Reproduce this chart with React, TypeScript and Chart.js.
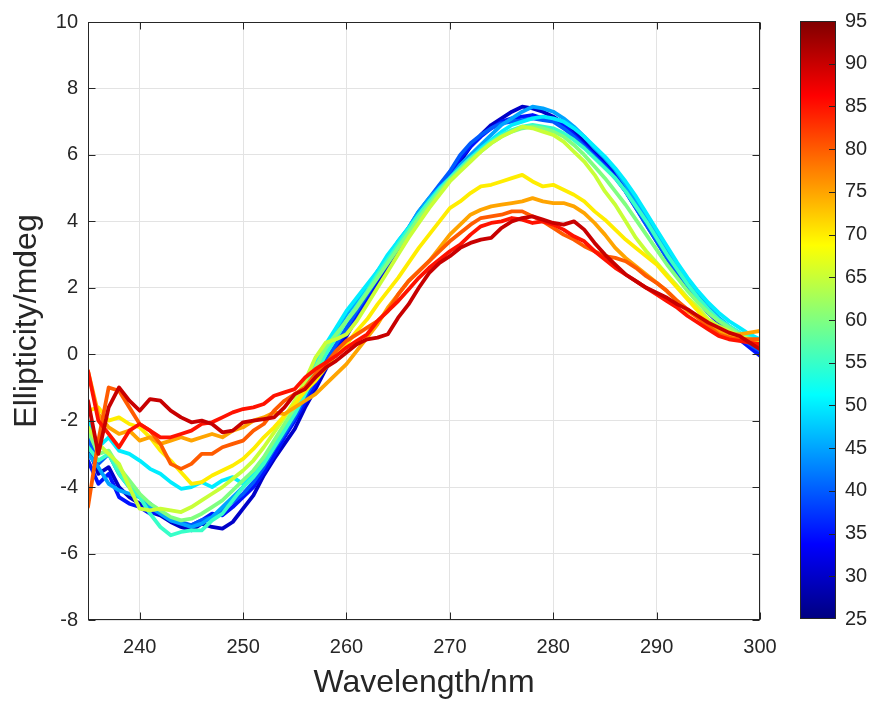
import React, { useEffect, useRef } from 'react';
import { Chart, registerables } from 'chart.js';
Chart.register(...registerables);

const wavelengths = [
  235, 236, 237, 238, 239, 240, 241, 242, 243, 244,
  245, 246, 247, 248, 249, 250, 251, 252, 253, 254,
  255, 256, 257, 258, 259, 260, 261, 262, 263, 264,
  265, 266, 267, 268, 269, 270, 271, 272, 273, 274,
  275, 276, 277, 278, 279, 280, 281, 282, 283, 284,
  285, 286, 287, 288, 289, 290, 291, 292, 293, 294,
  295, 296, 297, 298, 299, 300,
];

const temperatures = [30, 35, 40, 45, 50, 55, 60, 65, 70, 75, 80, 85, 90];

const t30 = [-2.8,-3.6,-3.4,-4.0,-4.3,-4.5,-4.75,-4.85,-5.05,-5.2, -5.3,-5.1,-5.2,-5.25,-5.05,-4.65,-4.25,-3.65,-3.15,-2.7, -2.25,-1.6,-1.05,-0.45,0.1,0.55,1.1,1.55,2.1,2.6, 3.05,3.6,4.0,4.5,4.85,5.3,5.8,6.25,6.6,6.9, 7.1,7.3,7.45,7.4,7.3,7.15,6.95,6.7,6.4,6.1, 5.8,5.45,5.0,4.5,4.0,3.45,2.95,2.45,2.0,1.6, 1.25,0.95,0.7,0.5,0.25,0.0];
const t35 = [-3.2,-3.9,-3.6,-4.3,-4.5,-4.6,-4.8,-4.75,-5.0,-5.1, -5.15,-5.0,-4.8,-4.85,-4.6,-4.3,-4.0,-3.55,-3.05,-2.5, -2.0,-1.45,-0.9,-0.3,0.2,0.7,1.2,1.7,2.25,2.7, 3.2,3.7,4.2,4.6,5.0,5.45,5.9,6.25,6.55,6.8, 7.0,7.1,7.15,7.2,7.1,7.05,6.9,6.6,6.3,6.0, 5.7,5.35,4.9,4.4,3.9,3.4,2.9,2.4,2.0,1.6, 1.25,0.95,0.7,0.45,0.2,-0.05];
const t40 = [-2.5,-3.3,-3.0,-3.6,-4.0,-4.3,-4.5,-4.8,-5.0,-5.05, -5.15,-5.0,-4.9,-4.7,-4.45,-4.2,-3.85,-3.4,-2.85,-2.4, -1.9,-1.3,-0.75,-0.2,0.3,0.8,1.3,1.8,2.3,2.8, 3.3,3.8,4.3,4.7,5.1,5.5,6.0,6.35,6.6,6.8, 6.95,7.0,7.05,7.1,7.05,7.0,6.8,6.55,6.25,5.95, 5.65,5.3,4.9,4.4,3.9,3.4,2.9,2.45,2.0,1.6, 1.3,1.0,0.75,0.5,0.3,0.1];
const t45 = [-3.0,-3.4,-3.9,-4.1,-4.2,-4.3,-4.6,-4.8,-5.0,-5.1, -5.2,-5.1,-4.9,-4.6,-4.3,-4.0,-3.6,-3.2,-2.7,-2.2, -1.6,-1.0,-0.4,0.2,0.7,1.2,1.6,2.0,2.5,2.9, 3.4,3.8,4.3,4.7,5.0,5.3,5.7,6.0,6.3,6.6, 6.9,7.1,7.3,7.45,7.4,7.3,7.1,6.85,6.55,6.2, 5.9,5.55,5.1,4.6,4.1,3.6,3.1,2.6,2.15,1.75, 1.4,1.1,0.85,0.65,0.45,0.25];
const t50 = [-2.0,-2.8,-2.5,-2.9,-3.0,-3.2,-3.45,-3.6,-3.85,-4.05, -4.0,-3.85,-4.0,-3.8,-3.7,-3.9,-3.6,-3.2,-2.7,-2.2, -1.6,-1.0,-0.3,0.3,0.8,1.3,1.7,2.1,2.5,3.0, 3.4,3.8,4.2,4.6,5.0,5.3,5.6,5.9,6.2,6.45, 6.7,6.9,7.0,7.1,7.15,7.1,7.0,6.8,6.55,6.25, 5.95,5.6,5.2,4.75,4.25,3.75,3.25,2.75,2.3,1.9, 1.55,1.25,1.0,0.8,0.6,0.45];
const t55 = [-2.8,-3.2,-3.0,-3.6,-4.0,-4.3,-4.8,-5.2,-5.45,-5.35, -5.3,-5.3,-5.0,-4.8,-4.4,-4.0,-3.7,-3.3,-2.8,-2.3, -1.8,-1.2,-0.6,0.0,0.5,1.0,1.45,1.9,2.4,2.85, 3.3,3.75,4.2,4.6,4.95,5.3,5.6,5.9,6.15,6.4, 6.6,6.75,6.85,6.9,6.85,6.8,6.65,6.45,6.2,5.9, 5.6,5.3,4.9,4.45,4.0,3.5,3.0,2.55,2.1,1.7, 1.35,1.05,0.85,0.65,0.5,0.35];
const t60 = [-2.3,-3.0,-2.9,-3.4,-3.8,-4.2,-4.5,-4.7,-4.9,-5.0, -4.95,-4.8,-4.6,-4.4,-4.1,-3.8,-3.5,-3.1,-2.6,-2.1, -1.6,-1.0,-0.4,0.2,0.6,1.0,1.4,1.85,2.3,2.75, 3.2,3.65,4.1,4.5,4.9,5.25,5.55,5.85,6.1,6.35, 6.55,6.7,6.8,6.85,6.8,6.7,6.55,6.3,6.0,5.65, 5.3,4.9,4.5,4.05,3.6,3.15,2.7,2.3,1.9,1.55, 1.25,1.0,0.8,0.6,0.45,0.3];
const t65 = [-2.2,-2.7,-3.0,-3.3,-4.0,-4.65,-4.7,-4.65,-4.7,-4.75, -4.6,-4.4,-4.2,-4.0,-3.75,-3.5,-3.2,-2.8,-2.35,-1.9, -1.4,-0.8,-0.1,0.35,0.45,0.6,1.0,1.5,2.0,2.5, 3.0,3.5,3.95,4.4,4.8,5.2,5.5,5.8,6.1,6.35, 6.55,6.7,6.85,6.8,6.7,6.6,6.4,6.1,5.8,5.4, 4.9,4.5,4.0,3.5,3.1,2.75,2.4,2.05,1.7,1.4, 1.05,0.85,0.7,0.55,0.45,0.35];
const t70 = [-1.7,-1.6,-2.0,-1.9,-2.1,-2.2,-2.5,-2.9,-3.2,-3.55, -3.9,-3.85,-3.65,-3.5,-3.35,-3.15,-2.85,-2.5,-2.2,-1.85, -1.5,-1.1,-0.8,-0.4,0.0,0.3,0.7,1.05,1.5,1.9, 2.3,2.75,3.2,3.6,4.0,4.4,4.6,4.85,5.05,5.1, 5.2,5.3,5.4,5.2,5.05,5.1,4.95,4.8,4.6,4.3, 4.05,3.75,3.45,3.2,2.95,2.7,2.35,2.0,1.65,1.3, 0.95,0.75,0.6,0.5,0.4,0.3];
const t75 = [-0.5,-1.8,-2.2,-2.4,-2.3,-2.6,-2.5,-2.7,-2.6,-2.5, -2.6,-2.5,-2.4,-2.5,-2.3,-2.2,-2.0,-1.9,-1.75,-1.8, -1.6,-1.4,-1.2,-0.9,-0.6,-0.3,0.1,0.5,0.9,1.4, 1.8,2.2,2.5,2.8,3.2,3.6,3.9,4.2,4.35,4.45, 4.5,4.55,4.6,4.7,4.6,4.55,4.55,4.45,4.25,3.95, 3.6,3.2,2.9,2.65,2.4,2.15,1.9,1.6,1.3,1.1, 0.9,0.7,0.6,0.6,0.65,0.7];
const t80 = [-4.6,-2.6,-1.0,-1.1,-1.6,-2.1,-2.3,-2.7,-3.3,-3.45, -3.3,-3.0,-3.0,-2.8,-2.7,-2.6,-2.3,-2.1,-1.7,-1.4, -1.2,-1.0,-0.6,-0.3,0.1,0.4,0.6,0.8,1.0,1.3, 1.8,2.2,2.5,2.8,3.1,3.4,3.65,3.9,4.1,4.15, 4.2,4.3,4.3,4.15,4.0,3.8,3.6,3.45,3.25,3.1, 2.95,2.9,2.8,2.6,2.35,2.15,1.9,1.6,1.35,1.1, 0.85,0.6,0.5,0.45,0.45,0.45];
const t85 = [-0.5,-2.0,-2.4,-2.8,-2.3,-2.1,-2.3,-2.5,-2.5,-2.4, -2.3,-2.1,-2.05,-1.9,-1.75,-1.65,-1.6,-1.5,-1.25,-1.15, -1.05,-0.7,-0.45,-0.25,-0.05,0.2,0.4,0.6,1.0,1.3, 1.6,1.95,2.3,2.6,2.85,3.1,3.3,3.6,3.85,3.95, 4.0,4.1,4.05,3.95,4.0,3.9,3.75,3.55,3.4,3.1, 2.85,2.6,2.4,2.2,2.0,1.8,1.6,1.4,1.15,0.95, 0.75,0.55,0.45,0.4,0.35,0.3];
const t90 = [-1.4,-3.0,-1.6,-1.0,-1.4,-1.7,-1.35,-1.4,-1.7,-1.9, -2.05,-2.0,-2.1,-2.35,-2.3,-2.05,-2.0,-1.95,-1.9,-1.6, -1.2,-1.05,-0.7,-0.4,-0.2,0.05,0.3,0.45,0.5,0.6, 1.1,1.5,2.0,2.45,2.75,2.95,3.2,3.35,3.45,3.5, 3.8,4.0,4.1,4.15,4.05,3.95,3.9,4.0,3.75,3.35, 3.0,2.7,2.4,2.2,2.0,1.85,1.7,1.5,1.35,1.15, 0.95,0.8,0.65,0.55,0.35,0.15];

const series = [t30, t35, t40, t45, t50, t55, t60, t65, t70, t75, t80, t85, t90];

const xTicks = [240, 250, 260, 270, 280, 290, 300];
const yTicks = [-8, -6, -4, -2, 0, 2, 4, 6, 8, 10];
const colorbarTicks = [25, 30, 35, 40, 45, 50, 55, 60, 65, 70, 75, 80, 85, 90, 95];
const colorMin = 25;
const colorMax = 95;

const TEXT = '#262626';
const FONT = '"Liberation Sans", Arial, Helvetica, sans-serif';

function jetRGB(t: number): [number, number, number] {
  const c = (k: number) => Math.max(0, Math.min(1, 1.5 - Math.abs(4 * t - k)));
  return [Math.round(c(3) * 255), Math.round(c(2) * 255), Math.round(c(1) * 255)];
}
function jetColor(v: number): string {
  const [r, g, b] = jetRGB((v - colorMin) / (colorMax - colorMin));
  return `rgb(${r},${g},${b})`;
}

const framePlugin = {
  id: 'frameAndColorbar',
  afterDraw(chart: any) {
    const { ctx, chartArea: a, scales } = chart;
    const xs = scales.x;
    const ys = scales.y;
    const L = Math.round(a.left) + 0.5;
    const R = Math.round(a.right) - 0.5;
    const T = Math.round(a.top) + 0.5;
    const B = Math.round(a.bottom) - 0.5;
    ctx.save();
    ctx.strokeStyle = TEXT;
    ctx.lineWidth = 1;
    ctx.strokeRect(L, T, R - L, B - T);
    const tl = 7;
    ctx.beginPath();
    xTicks.forEach((v) => {
      const px = Math.round(xs.getPixelForValue(v)) + 0.5;
      ctx.moveTo(px, B);
      ctx.lineTo(px, B - tl);
      ctx.moveTo(px, T);
      ctx.lineTo(px, T + tl);
    });
    yTicks.forEach((v) => {
      const py = Math.round(ys.getPixelForValue(v)) + 0.5;
      ctx.moveTo(L, py);
      ctx.lineTo(L + tl, py);
      ctx.moveTo(R, py);
      ctx.lineTo(R - tl, py);
    });
    ctx.stroke();

    // colorbar
    const cbL = 800;
    const cbR = 836;
    const cbT = Math.round(a.top) - 1;
    const cbB = Math.round(a.bottom) - 1;
    const grad = ctx.createLinearGradient(0, cbB, 0, cbT);
    for (let i = 0; i <= 64; i++) {
      const [r, g, b] = jetRGB(i / 64);
      grad.addColorStop(i / 64, `rgb(${r},${g},${b})`);
    }
    ctx.fillStyle = grad;
    ctx.fillRect(cbL, cbT, cbR - cbL, cbB - cbT);
    ctx.strokeStyle = TEXT;
    ctx.strokeRect(cbL + 0.5, cbT + 0.5, cbR - cbL - 1, cbB - cbT - 1);
    ctx.beginPath();
    ctx.fillStyle = TEXT;
    ctx.font = `20px ${FONT}`;
    ctx.textAlign = 'left';
    ctx.textBaseline = 'middle';
    colorbarTicks.forEach((v) => {
      const py = cbB - ((v - colorMin) / (colorMax - colorMin)) * (cbB - cbT);
      const yy = Math.round(py) + 0.5;
      if (v !== colorMin && v !== colorMax) {
        ctx.moveTo(cbR - 1, yy);
        ctx.lineTo(cbR - 1 - 6, yy);
      }
      ctx.fillText(String(v), 845, py);
    });
    ctx.stroke();
    ctx.restore();
  },
};

export default function App() {
  const ref = useRef<HTMLCanvasElement>(null);
  useEffect(() => {
    if (!ref.current) return;
    const datasets = series.map((s, i) => ({
      label: `${temperatures[i]}`,
      data: wavelengths.map((w, j) => ({ x: w, y: s[j] })),
      borderColor: jetColor(temperatures[i]),
      backgroundColor: jetColor(temperatures[i]),
      borderWidth: 3.8,
      pointRadius: 0,
      tension: 0,
      fill: false,
      borderJoinStyle: 'round' as const,
      borderCapStyle: 'round' as const,
      order: series.length - i,
    }));
    const chart = new Chart(ref.current, {
      type: 'line',
      data: { datasets },
      options: {
        animation: false,
        responsive: false,
        devicePixelRatio: 1,
        layout: { padding: { left: 8, right: 115, top: 16, bottom: 0 } },
        plugins: { legend: { display: false }, tooltip: { enabled: false } },
        scales: {
          x: {
            type: 'linear',
            min: 235,
            max: 300,
            afterBuildTicks: (s: any) => {
              s.ticks = xTicks.map((v) => ({ value: v }));
            },
            afterFit: (s: any) => {
              s.height = 86;
            },
            grid: { color: '#e3e3e3', lineWidth: 1, drawTicks: false },
            border: { display: false },
            ticks: { color: TEXT, font: { size: 20, family: FONT }, padding: 15, maxRotation: 0 },
            title: {
              display: true,
              text: 'Wavelength/nm',
              color: TEXT,
              font: { size: 32, family: FONT },
              padding: { top: 0, bottom: 4 },
            },
          },
          y: {
            type: 'linear',
            min: -8,
            max: 10,
            afterBuildTicks: (s: any) => {
              s.ticks = yTicks.map((v) => ({ value: v }));
            },
            afterFit: (s: any) => {
              s.width = 80;
            },
            grid: { color: '#e3e3e3', lineWidth: 1, drawTicks: false },
            border: { display: false },
            ticks: { color: TEXT, font: { size: 20, family: FONT }, padding: 10 },
            title: {
              display: true,
              text: 'Ellipticity/mdeg',
              color: TEXT,
              font: { size: 32, family: FONT },
              padding: { top: 0, bottom: 0 },
            },
          },
        },
      },
      plugins: [framePlugin],
    });
    return () => chart.destroy();
  }, []);
  return (
    <div style={{ position: 'absolute', left: 0, top: 0, width: 875, height: 706, background: '#ffffff' }}>
      <canvas ref={ref} width={875} height={706} style={{ display: 'block', width: 875, height: 706 }} />
    </div>
  );
}
